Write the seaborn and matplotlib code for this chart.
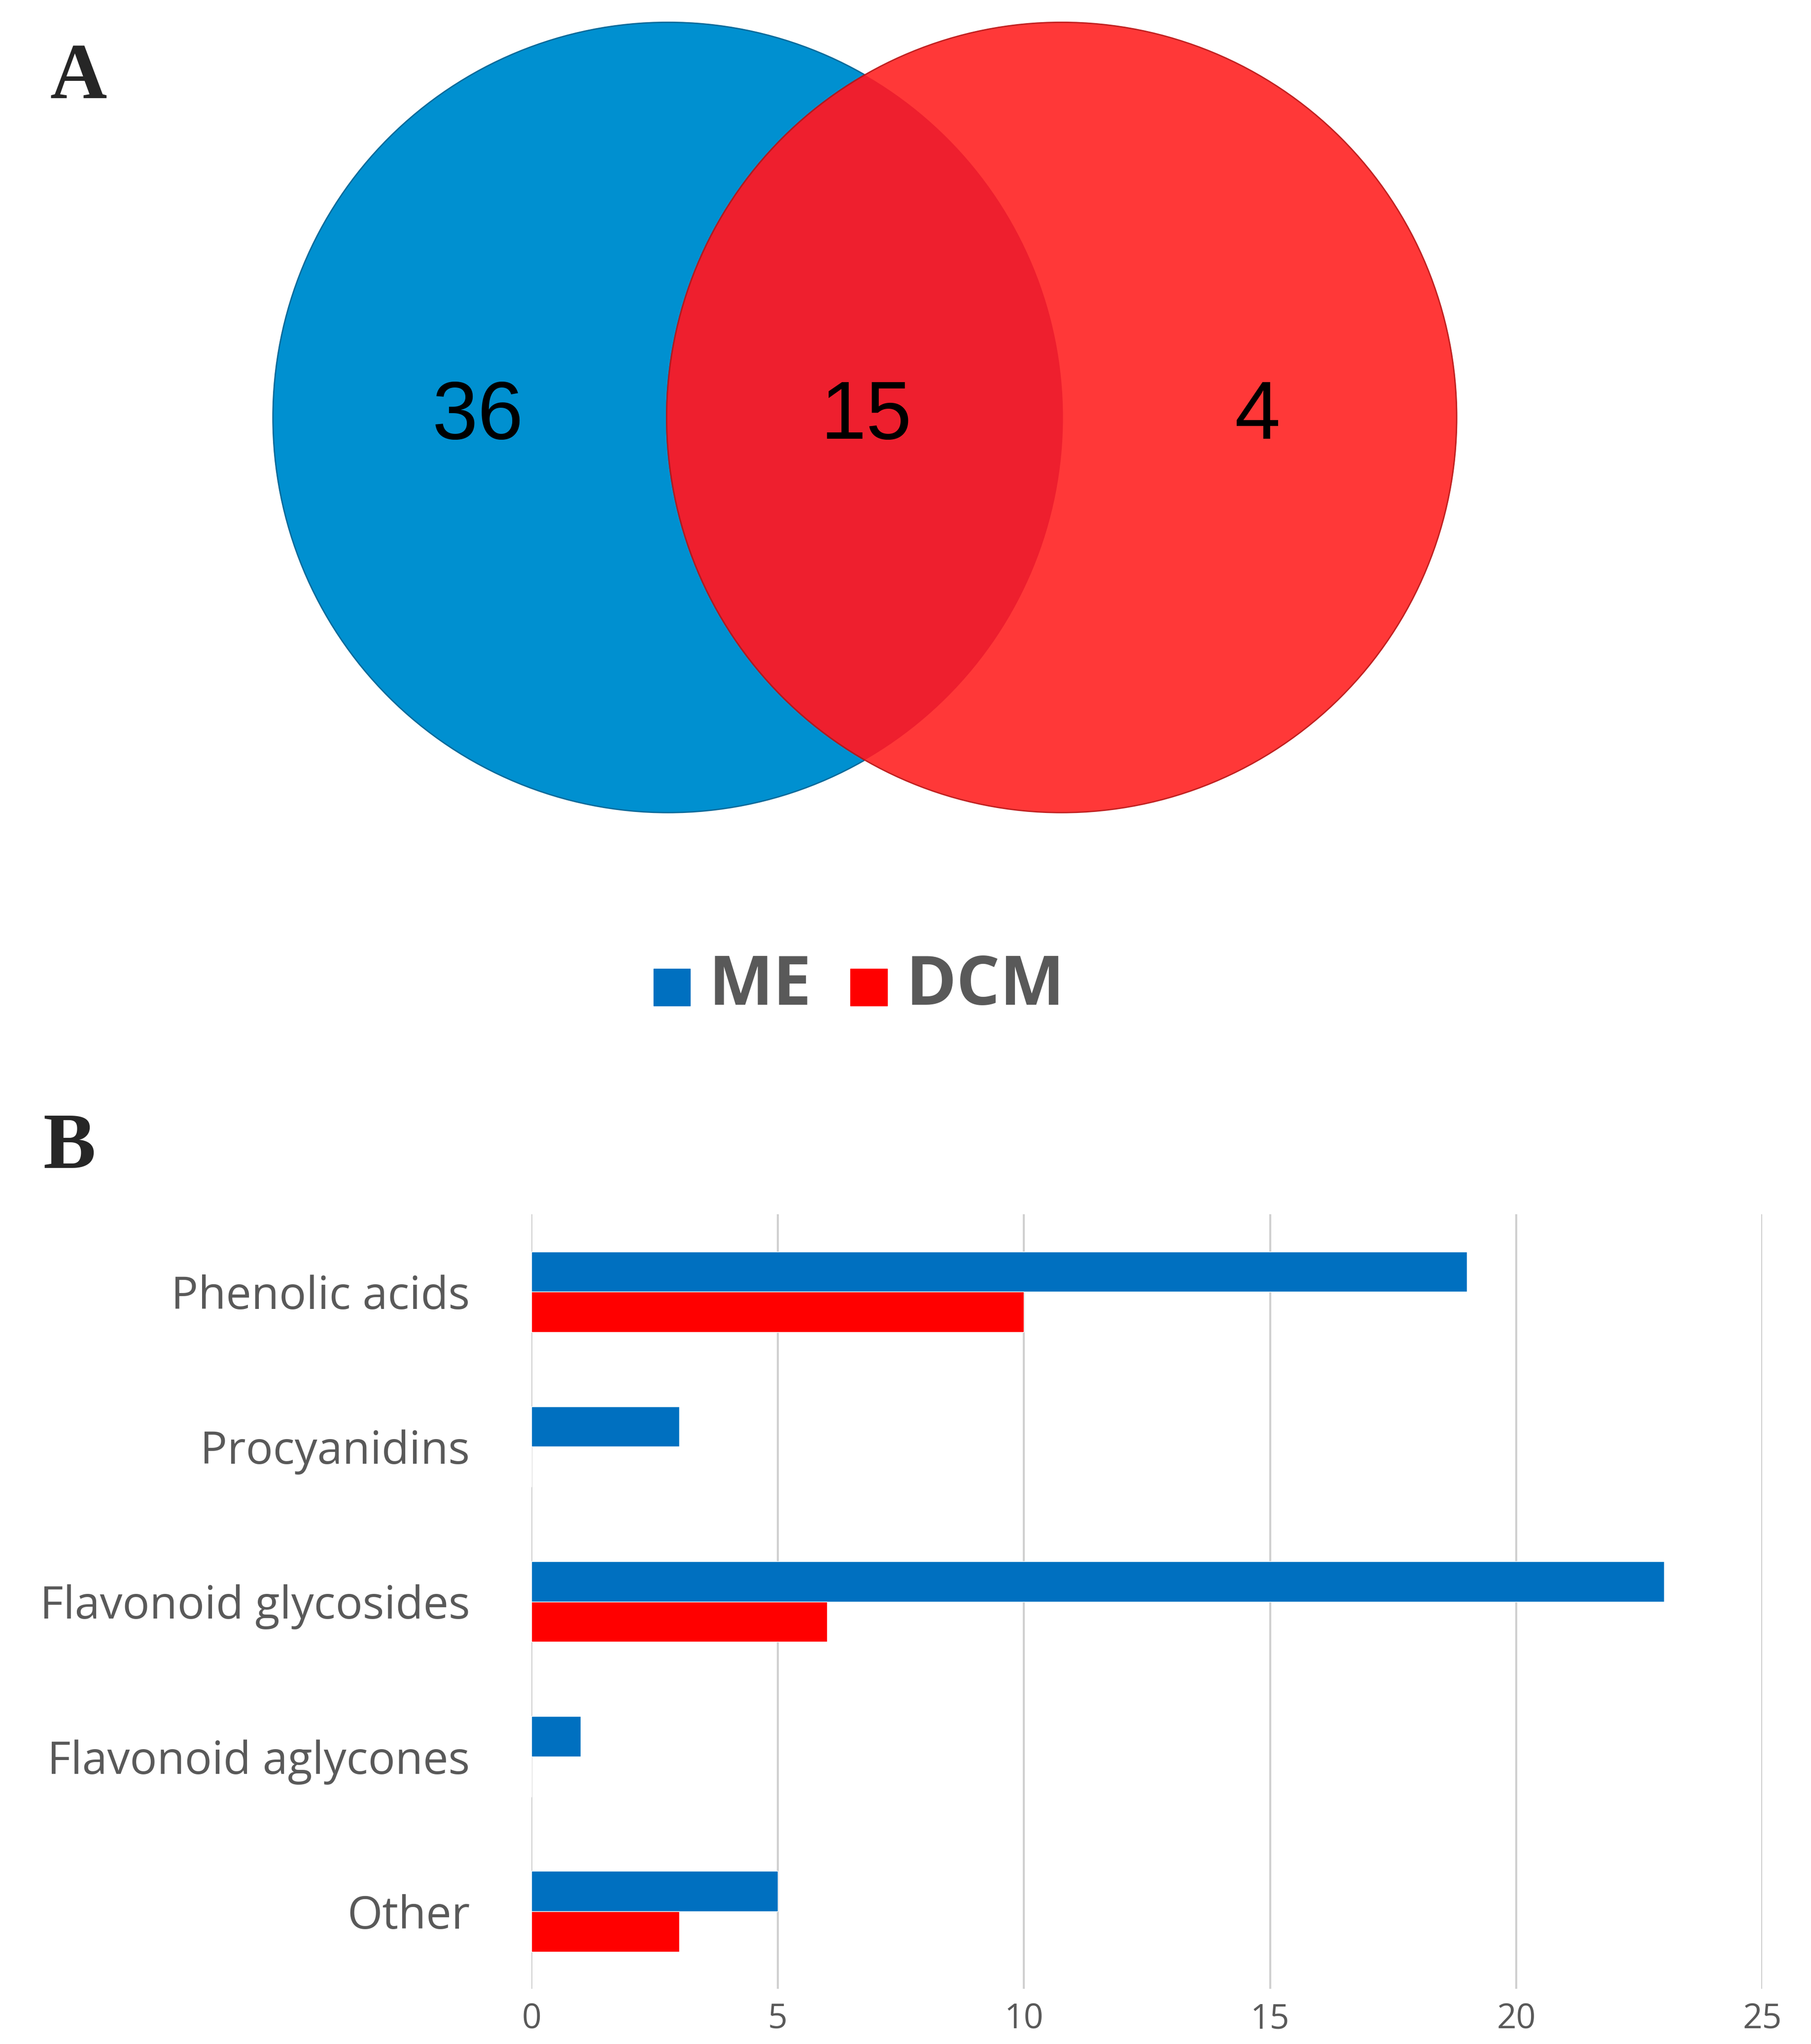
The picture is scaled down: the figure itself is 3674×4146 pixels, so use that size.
import numpy as np
import pandas as pd
import matplotlib.pyplot as plt
import seaborn as sns
from matplotlib.patches import Circle, Rectangle

# Venn counts
venn_only_me = 36
venn_shared = 15
venn_only_dcm = 4

# Bar data
categories = ['Phenolic acids', 'Procyanidins', 'Flavonoid glycosides',
              'Flavonoid aglycones', 'Other']
me_counts = [19, 3, 23, 1, 5]
dcm_counts = [10, 0, 6, 0, 3]
series = ['ME', 'DCM']

BLUE_V = '#0090D0'
RED_V = '#FF3838'
OVER_V = '#EE1F2E'
BLUE_B = '#0070C0'
RED_B = '#FF0000'
GRAY = '#595959'

sns.set_theme(style='white')
plt.rcParams['font.family'] = ['Open Sans', 'DejaVu Sans']

W, H = 1380, 1557
fig = plt.figure(figsize=(36.74, 41.46), dpi=100)

# overlay axes in reference pixel coordinates
ov = fig.add_axes([0, 0, 1, 1])
ov.set_xlim(0, W)
ov.set_ylim(H, 0)
ov.axis('off')

c_left = Circle((509, 318), 301, facecolor=BLUE_V, edgecolor='#0a6a9a', lw=2)
c_right = Circle((809, 318), 301, facecolor=RED_V, edgecolor='#c02020', lw=2)
ov.add_patch(c_left)
ov.add_patch(c_right)
c_over = Circle((809, 318), 301, facecolor=OVER_V, edgecolor='#b01a20', lw=2)
ov.add_patch(c_over)
clip = Circle((509, 318), 301, transform=ov.transData)
c_over.set_clip_path(clip)

for x, v in [(364, venn_only_me), (660, venn_shared), (958, venn_only_dcm)]:
    ov.text(x, 318, str(v), ha='center', va='center', fontsize=120,
            color='black', family=['Liberation Sans', 'DejaVu Sans'])

# legend
ov.add_patch(Rectangle((498, 738), 28, 28, color=BLUE_B))
ov.text(540, 752, series[0], ha='left', va='center', fontsize=100,
        fontweight='bold', color=GRAY)
ov.add_patch(Rectangle((648, 738), 28, 28, color=RED_B))
ov.text(690, 752, series[1], ha='left', va='center', fontsize=100,
        fontweight='bold', color=GRAY)

for x, y, t in [(38, 60, 'A'), (33, 875, 'B')]:
    ov.text(x, y, t, ha='left', va='center', fontsize=115, fontweight='bold',
            family=['Liberation Serif', 'DejaVu Serif'])

# bar chart
df = pd.DataFrame({
    'category': categories * 2,
    'count': me_counts + dcm_counts,
    'extract': [series[0]] * len(categories) + [series[1]] * len(categories),
})
ax = fig.add_axes([405 / W, 1 - 1515 / H, (1343 - 405) / W, (1515 - 925) / H])
sns.barplot(data=df, y='category', x='count', hue='extract', order=categories,
            hue_order=series, palette=[BLUE_B, RED_B], width=0.52,
            orient='h', ax=ax, legend=False, saturation=1)
ax.set_xlim(0, 25)
ax.set_ylim(4.5, -0.5)
ax.set_xticks(range(0, 26, 5))
ax.xaxis.grid(True, color='#d0d0d0', lw=3)
ax.set_axisbelow(True)
for s in ax.spines.values():
    s.set_visible(False)
ax.set_xlabel('')
ax.set_ylabel('')
ax.tick_params(axis='x', labelsize=50, labelcolor=GRAY, length=0, pad=20)
ax.tick_params(axis='y', labelsize=66, labelcolor=GRAY, length=0, pad=90)

fig.savefig('out.png', dpi=100)
